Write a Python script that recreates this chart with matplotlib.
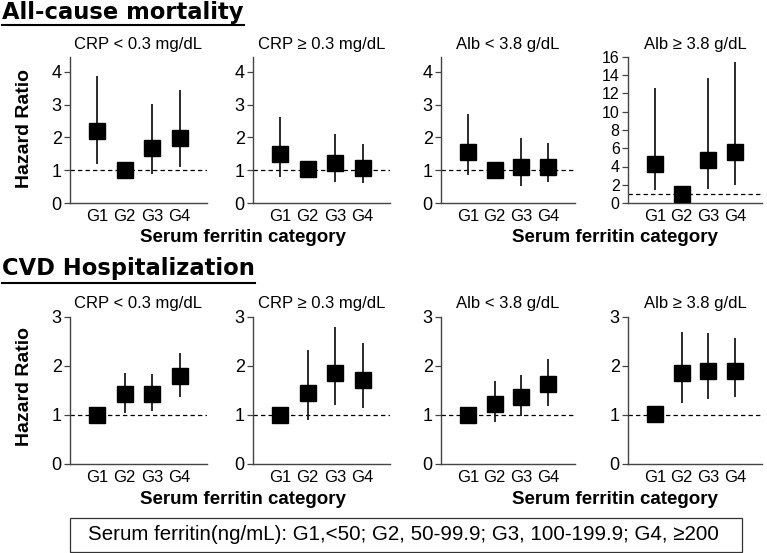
import matplotlib
matplotlib.use("Agg")
import matplotlib.pyplot as plt
from matplotlib.lines import Line2D
from matplotlib.patches import Rectangle

plt.rcParams['font.family'] = ['Liberation Sans', 'DejaVu Sans']

groups = ['G1', 'G2', 'G3', 'G4']
titles = ['CRP < 0.3 mg/dL', 'CRP ≥ 0.3 mg/dL', 'Alb < 3.8 g/dL', 'Alb ≥ 3.8 g/dL']

# all-cause mortality: hazard ratio, lower and upper CI (G2 = reference)
mort_hr = [[2.18, 1.0, 1.67, 1.98],
           [1.50, 1.03, 1.23, 1.08],
           [1.55, 1.01, 1.09, 1.09],
           [4.26, 1.0, 4.73, 5.57]]
mort_lo = [[1.19, None, 0.89, 1.09],
           [0.80, None, 0.65, 0.62],
           [0.86, None, 0.53, 0.63],
           [1.38, None, 1.53, 1.92]]
mort_hi = [[3.88, None, 3.02, 3.45],
           [2.62, None, 2.10, 1.79],
           [2.71, None, 1.99, 1.82],
           [12.55, None, 13.75, 15.46]]

# CVD hospitalization (G1 = reference)
cvd_hr = [[1.0, 1.42, 1.42, 1.78],
          [1.0, 1.44, 1.85, 1.70],
          [1.0, 1.23, 1.37, 1.63],
          [1.02, 1.86, 1.90, 1.90]]
cvd_lo = [[None, 1.04, 1.07, 1.36],
          [None, 0.89, 1.19, 1.13],
          [None, 0.86, 0.98, 1.18],
          [None, 1.25, 1.33, 1.37]]
cvd_hi = [[None, 1.85, 1.83, 2.25],
          [None, 2.31, 2.78, 2.47],
          [None, 1.68, 1.82, 2.14],
          [None, 2.69, 2.67, 2.57]]

footnote = 'Serum ferritin(ng/mL): G1,<50; G2, 50-99.9; G3, 100-199.9; G4, ≥200'

W, H = 767, 553
fig = plt.figure(figsize=(W / 100, H / 100), dpi=100)

x_spans = [(70, 207), (253, 390), (441, 575), (628, 762)]


def px_axes(x0, x1, ytop, ybot):
    return fig.add_axes([x0 / W, 1 - ybot / H, (x1 - x0) / W, (ybot - ytop) / H])


def draw_panel(ax, hr, lo, hi, ylim, yticks, title, tick_size):
    xs = [1, 2, 3, 4]
    ax.axhline(1, color='black', lw=0.9, ls=(0, (3.5, 2.5)), zorder=1)
    for x, h, l, u in zip(xs, hr, lo, hi):
        if l is not None:
            ax.vlines(x, l, u, color='#1a1a1a', lw=1.3, zorder=2)
    ax.plot(xs, hr, 's', color='black', ms=12, zorder=3)
    ax.set_xlim(0, 5)
    ax.set_ylim(*ylim)
    ax.set_yticks(yticks)
    ax.set_xticks(xs)
    ax.set_xticklabels(groups, fontsize=12)
    ax.tick_params(axis='x', length=0, pad=4)
    ax.tick_params(axis='y', length=4, width=0.9, colors='#444444',
                   labelcolor='black', labelsize=tick_size, pad=2)
    for s in ['top', 'right']:
        ax.spines[s].set_visible(False)
    for s in ['left', 'bottom']:
        ax.spines[s].set_color('#444444')
        ax.spines[s].set_linewidth(1.0)
    ax.set_title(title, fontsize=12, pad=6)


# top row
for i in range(4):
    ax = px_axes(x_spans[i][0], x_spans[i][1], 57, 203)
    if i == 3:
        draw_panel(ax, mort_hr[i], mort_lo[i], mort_hi[i], (0, 16),
                   range(0, 17, 2), titles[i], 11.5)
    else:
        draw_panel(ax, mort_hr[i], mort_lo[i], mort_hi[i], (0, 4.45),
                   [0, 1, 2, 3, 4], titles[i], 13)

# bottom row
for i in range(4):
    ax = px_axes(x_spans[i][0], x_spans[i][1], 316.5, 464)
    draw_panel(ax, cvd_hr[i], cvd_lo[i], cvd_hi[i], (0, 3),
               [0, 1, 2, 3], titles[i], 13)

# axis labels
for yc in [128, 387]:
    fig.text(25 / W, 1 - yc / H, 'Hazard Ratio', rotation=90, fontsize=14,
             fontweight='bold', ha='center', va='center')
for yc in [237, 500]:
    for xc in [243, 615]:
        fig.text(xc / W, 1 - yc / H, 'Serum ferritin category', fontsize=13.5,
                 fontweight='bold', ha='center', va='center')

# section headings, underlined
headings = [('All-cause mortality', 12, 25), ('CVD Hospitalization', 269, 283)]
head_texts = []
for txt, yc, yu in headings:
    t = fig.text(2 / W, 1 - yc / H, txt, fontsize=16.3, fontweight='bold',
                 family='DejaVu Sans', ha='left', va='center')
    head_texts.append((t, yu))

fig.canvas.draw()
for t, yu in head_texts:
    bb = t.get_window_extent()
    fig.add_artist(Line2D([bb.x0 / W, bb.x1 / W], [1 - yu / H, 1 - yu / H],
                          color='black', lw=1.5, transform=fig.transFigure))

# footnote box
fig.add_artist(Rectangle((70 / W, 1 - 552 / H), 672 / W, 34 / H,
                         transform=fig.transFigure, fc='white', ec='#333333', lw=0.9))
fig.text(403 / W, 1 - 535 / H, footnote, fontsize=14.8, ha='center', va='center')

fig.savefig('out.png', dpi=100)
